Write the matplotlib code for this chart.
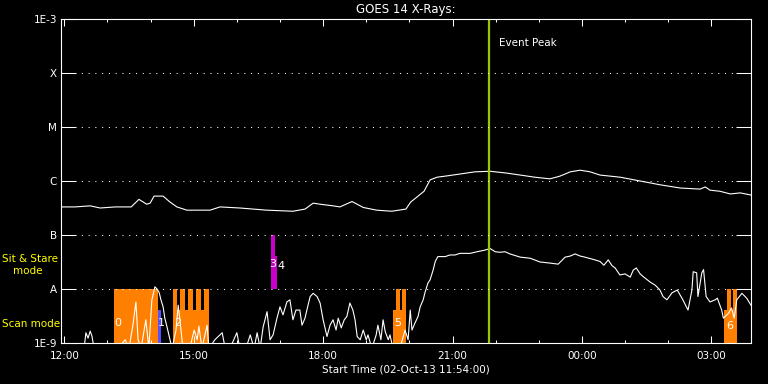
import numpy as np
import matplotlib
matplotlib.use('Agg')
from matplotlib import pyplot as plt

## time axis: hours after 12:00 UT on 02-Oct-13
x_start, x_end = -0.077, 15.92
tick_hours  = [0, 3, 6, 9, 12, 15]
tick_labels = ['12:00', '15:00', '18:00', '21:00', '00:00', '03:00']

## y axis: GOES class levels
level_flux   = [1e-9, 1e-8, 1e-7, 1e-6, 1e-5, 1e-4, 1e-3]
level_labels = ['1E-9', 'A', 'B', 'C', 'M', 'X', '1E-3']

## long channel (1-8 A), log10 flux
long_t = [-0.08, 0.25, 0.60, 0.83, 1.18, 1.55, 1.73, 1.91, 1.99, 2.08, 2.29, 2.45,
          2.61, 2.84, 3.38, 3.61, 4.07, 4.69, 5.30, 5.58, 5.77, 5.93, 6.23, 6.39,
          6.67, 6.93, 7.24, 7.59, 7.92, 8.03, 8.17, 8.34, 8.48, 8.64, 8.83, 9.18,
          9.52, 9.87, 10.22, 10.57, 10.91, 11.26, 11.49, 11.73, 11.96, 12.19, 12.42,
          12.89, 13.35, 13.81, 14.28, 14.74, 14.86, 14.97, 15.20, 15.44, 15.67, 15.92]
long_lf = [-6.48, -6.48, -6.46, -6.50, -6.48, -6.48, -6.34, -6.43, -6.41, -6.28, -6.28, -6.39,
           -6.48, -6.54, -6.54, -6.48, -6.50, -6.54, -6.56, -6.52, -6.41, -6.43, -6.46, -6.48,
           -6.38, -6.49, -6.54, -6.56, -6.52, -6.39, -6.30, -6.19, -5.98, -5.93, -5.91, -5.87,
           -5.83, -5.82, -5.85, -5.89, -5.93, -5.96, -5.91, -5.83, -5.80, -5.83, -5.89,
           -5.93, -6.00, -6.07, -6.13, -6.15, -6.11, -6.17, -6.19, -6.24, -6.22, -6.26]

## short channel (0.5-4 A), log10 flux
short_t = [-0.08, 0.46, 0.50, 0.55, 0.60, 0.64, 0.69, 0.99, 1.11, 1.25, 1.41, 1.50, 1.59,
           1.66, 1.71, 1.78, 1.89, 1.96, 2.03, 2.10, 2.15, 2.20, 2.24, 2.29, 2.33, 2.38,
           2.45, 2.50, 2.59, 2.64, 2.68, 2.75, 2.91, 3.01, 3.08, 3.12, 3.19, 3.31, 3.35,
           3.49, 3.66, 3.73, 3.84, 4.00, 4.07, 4.21, 4.31, 4.40, 4.47, 4.54, 4.61, 4.70,
           4.77, 4.84, 4.93, 5.00, 5.07, 5.16, 5.23, 5.30, 5.37, 5.46, 5.51, 5.58, 5.65,
           5.70, 5.77, 5.86, 5.93, 6.00, 6.09, 6.16, 6.23, 6.30, 6.35, 6.42, 6.49, 6.55,
           6.62, 6.69, 6.74, 6.79, 6.86, 6.93, 7.00, 7.04, 7.13, 7.23, 7.27, 7.34, 7.39,
           7.44, 7.51, 7.55, 7.62, 7.78, 7.90, 7.97, 8.02, 8.06, 8.13, 8.20, 8.25, 8.32,
           8.36, 8.43, 8.48, 8.55, 8.60, 8.66, 8.83, 8.94, 9.06, 9.17, 9.41, 9.57, 9.75,
           9.87, 9.99, 10.10, 10.22, 10.33, 10.57, 10.80, 11.03, 11.26, 11.45, 11.61, 11.73,
           11.84, 11.96, 12.07, 12.30, 12.42, 12.51, 12.61, 12.70, 12.77, 12.88, 13.00,
           13.12, 13.19, 13.26, 13.35, 13.42, 13.58, 13.70, 13.81, 13.88, 13.97, 14.09,
           14.21, 14.32, 14.46, 14.55, 14.58, 14.66, 14.69, 14.78, 14.82, 14.88, 14.97,
           15.09, 15.14, 15.24, 15.28, 15.40, 15.47, 15.53, 15.59, 15.71, 15.82, 15.92]
short_lf = [-9.1, -9.1, -8.81, -8.91, -8.78, -8.87, -9.1, -9.1, -9.1, -9.1, -8.94, -9.1, -8.67,
            -8.24, -8.94, -9.1, -8.57, -9.1, -8.20, -7.96, -8.00, -8.07, -8.20, -8.33, -8.54, -8.70,
            -8.94, -9.1, -8.76, -8.30, -8.57, -9.1, -9.1, -8.76, -8.94, -8.69, -9.1, -8.67, -9.1,
            -8.94, -8.81, -9.1, -9.1, -8.81, -9.1, -9.1, -8.85, -9.1, -8.81, -9.1, -8.70, -8.42,
            -8.94, -8.85, -8.54, -8.33, -8.48, -8.24, -8.20, -8.57, -8.39, -8.39, -8.67, -8.54, -8.30,
            -8.14, -8.08, -8.14, -8.26, -8.57, -8.88, -8.67, -8.57, -8.76, -8.54, -8.72, -8.57, -8.51,
            -8.26, -8.39, -8.57, -8.88, -8.94, -8.76, -8.94, -8.85, -9.1, -8.85, -8.67, -8.94, -8.57,
            -8.79, -8.94, -8.85, -9.1, -9.1, -8.76, -8.94, -8.39, -8.76, -8.63, -8.51, -8.33, -8.20,
            -8.07, -7.89, -7.83, -7.65, -7.49, -7.40, -7.40, -7.37, -7.37, -7.34, -7.34, -7.31, -7.28,
            -7.25, -7.31, -7.32, -7.31, -7.35, -7.41, -7.43, -7.50, -7.52, -7.54, -7.41, -7.39,
            -7.35, -7.39, -7.41, -7.46, -7.49, -7.56, -7.46, -7.57, -7.61, -7.74, -7.72,
            -7.78, -7.65, -7.61, -7.72, -7.77, -7.87, -7.93, -8.02, -8.14, -8.20, -8.07,
            -8.02, -8.17, -8.39, -8.02, -7.68, -7.70, -8.14, -7.70, -7.64, -8.14, -8.24,
            -8.20, -8.17, -8.39, -8.54, -8.45, -8.35, -8.54, -8.20, -8.08, -8.17, -8.30]

## observing blocks: start hour, end hour, top flux
scan_start = [1.15, 2.51, 7.61, 15.30]
scan_end   = [2.18, 3.36, 7.92, 15.59]
scan_low   = 4.1e-9
scan_full_start = [1.15, 2.51, 2.68, 2.87, 3.05, 3.24, 7.69, 7.83, 15.36, 15.50]
scan_full_end   = [2.18, 2.61, 2.80, 2.99, 3.17, 3.36, 7.78, 7.92, 15.45, 15.59]
blue_start, blue_end, blue_top = 2.165, 2.242, 4.1e-9
stare_start = [4.79, 4.88]
stare_end   = [4.88, 4.92]
stare_top   = [1e-7, 4.1e-8]

## block numbers
num_text = ['0', '1', '2', '3', '4', '5', '6']
num_t    = [1.23, 2.25, 2.62, 4.84, 5.02, 7.72, 15.42]
num_flux = [2.3e-9, 2.3e-9, 2.3e-9, 2.9e-8, 2.7e-8, 2.3e-9, 2.1e-9]

peak_time = 9.84

orange = '#ff8000'
green = '#98c800'

fig = plt.figure(figsize=(7.68, 3.84), dpi=100, facecolor='black')
ax = fig.add_axes([61/768, 1-343/384, 690/768, 324/384], facecolor='black')
ax.set_yscale('log')

## observing mode blocks
ax.bar(scan_start, np.array([scan_low]*len(scan_start)) - 1e-9,
       width=np.array(scan_end) - np.array(scan_start), bottom=1e-9,
       align='edge', color=orange, linewidth=0)
ax.bar(scan_full_start, [1e-8 - 1e-9]*len(scan_full_start),
       width=np.array(scan_full_end) - np.array(scan_full_start), bottom=1e-9,
       align='edge', color=orange, linewidth=0)
ax.bar([blue_start], [blue_top - 1e-9], width=blue_end - blue_start, bottom=1e-9,
       align='edge', color='#5a50ff', linewidth=0)
ax.bar(stare_start, np.array(stare_top) - 1e-8,
       width=np.array(stare_end) - np.array(stare_start), bottom=1e-8,
       align='edge', color='#c800c8', linewidth=0)

## x-ray curves
ax.plot(long_t, 10**np.array(long_lf), color='white', linewidth=0.8)
ax.plot(short_t, 10**np.array(short_lf), color='white', linewidth=0.8)

for s, t, f in zip(num_text, num_t, num_flux):
    ax.text(t, f, s, color='white', fontsize=8, ha='center', va='center')

ax.axvline(peak_time, color=green, linewidth=1.6)
ax.text(peak_time + 0.24, 10**-3.44, 'Event Peak', color='white', fontsize=7.5,
        ha='left', va='center')

## dotted class lines
for lv in level_flux[1:-1]:
    ax.axhline(lv, color='white', linewidth=0.75, linestyle=(0, (1, 5.5)))

ax.set_xlim(x_start, x_end)
ax.set_ylim(1e-9, 1e-3)
ax.set_xticks(tick_hours)
ax.set_xticklabels(tick_labels)
ax.set_xticks(np.arange(0, 16, 1), minor=True)
ax.set_yticks(level_flux)
ax.set_yticklabels(level_labels)
ax.yaxis.set_minor_locator(matplotlib.ticker.NullLocator())

ax.tick_params(axis='x', which='major', direction='in', length=5, width=0.75,
               top=True, colors='white', labelsize=7.5, pad=6)
ax.tick_params(axis='x', which='minor', direction='in', length=2.5, width=0.75,
               top=True, colors='white')
ax.tick_params(axis='y', which='major', direction='in', length=11, width=0.75,
               right=True, colors='white', labelsize=7.5, pad=3)
for sp in ax.spines.values():
    sp.set_color('white')
    sp.set_linewidth(0.8)

ax.set_title('GOES 14 X-Rays:', color='white', fontsize=8.5, pad=4)
ax.set_xlabel('Start Time (02-Oct-13 11:54:00)', color='white', fontsize=7.5, labelpad=2)

fig.text(2/768, 1-259/384, 'Sit & Stare', color='yellow', fontsize=7.5, ha='left', va='center')
fig.text(13/768, 1-271/384, 'mode', color='yellow', fontsize=7.5, ha='left', va='center')
fig.text(2/768, 1-324/384, 'Scan mode', color='yellow', fontsize=7.5, ha='left', va='center')

fig.savefig('out.png', dpi=100, facecolor='black')
